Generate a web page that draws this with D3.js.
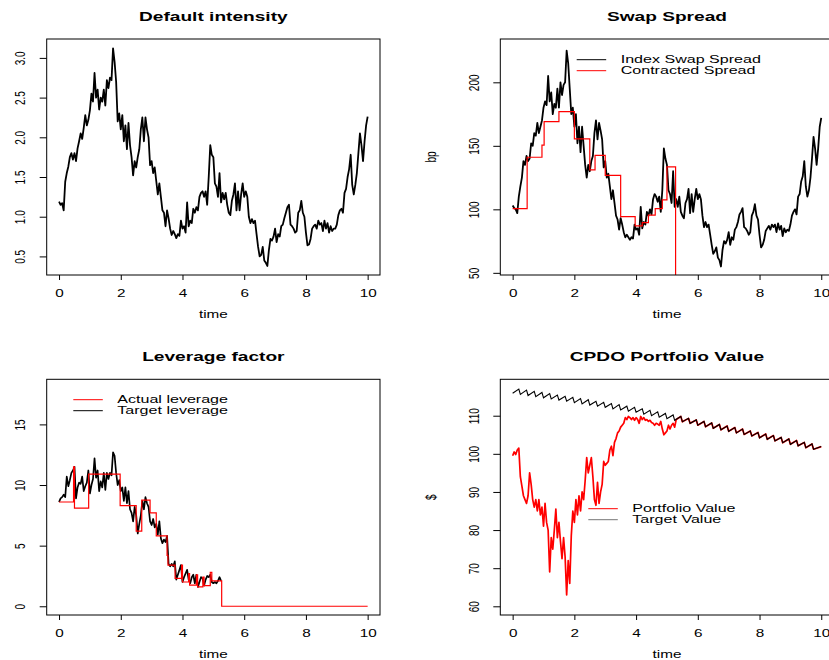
<!DOCTYPE html>
<html>
<head>
<meta charset="utf-8">
<script src="https://cdn.jsdelivr.net/npm/d3@7"></script>
<style>
  body { margin: 0; background: #fff; }
  svg { display: block; }
  text { font-family: "Liberation Sans", Arial, Helvetica, sans-serif; fill: #000; }
</style>
</head>
<body>
<svg id="fig" width="829" height="660"></svg>
<script>
// ---------------------------------------------------------------------------
// Data (time in years; noisy series sampled every 0.05 year)
// ---------------------------------------------------------------------------
const timeTicks = [0, 2, 4, 6, 8, 10];
const intensityTicks = [0.5, 1.0, 1.5, 2.0, 2.5, 3.0];
const spreadTicks = [50, 100, 150, 200];
const leverageTicks = [0, 5, 10, 15];
const valueTicks = [60, 70, 80, 90, 100, 110];

const sampleStep = 0.05;

// default intensity, t = 0 .. 10
const intensity = [
  1.19,1.15,1.17,1.08,1.44,1.55,1.63,1.75,1.80,1.72,1.80,1.70,1.86,1.95,2.05,1.98,2.12,2.28,2.15,2.22,
  2.34,2.55,2.45,2.81,2.50,2.60,2.35,2.50,2.45,2.60,2.40,2.72,2.62,2.75,2.72,3.12,2.95,2.70,2.20,2.30,
  2.10,2.28,1.95,2.15,1.85,2.18,1.90,1.75,1.52,1.70,1.62,1.75,1.85,2.10,2.25,1.95,2.25,2.10,2.00,1.65,
  1.70,1.55,1.62,1.45,1.28,1.42,1.25,1.08,1.05,0.88,1.08,0.98,0.85,0.77,0.82,0.78,0.73,0.78,0.76,0.95,
  0.85,0.88,0.80,1.18,0.88,0.95,0.92,1.10,1.05,1.12,1.08,1.25,1.30,1.32,1.25,1.32,1.15,1.50,1.90,1.78,
  1.75,1.42,1.38,1.25,1.55,1.18,1.30,1.22,1.30,1.15,1.05,1.02,1.20,1.28,1.42,1.08,1.32,1.08,1.28,1.42,
  1.25,1.32,1.25,1.00,0.92,0.97,0.92,0.95,0.78,0.62,0.50,0.52,0.62,0.45,0.42,0.38,0.58,0.72,0.70,0.75,
  0.85,0.68,0.78,0.75,0.88,0.90,0.98,1.05,1.12,1.15,0.90,0.88,0.85,0.80,0.82,1.05,1.08,1.20,1.05,1.00,
  0.80,0.64,0.65,0.72,0.85,0.88,0.90,0.85,0.95,0.90,0.92,0.82,0.95,0.85,0.92,0.80,0.88,0.82,0.85,0.85,
  0.90,1.02,1.08,1.10,1.05,1.30,1.35,1.50,1.60,1.78,1.40,1.28,1.40,1.55,1.80,2.05,1.90,1.70,1.95,2.15,
  2.26
];

// index swap spread (bp), t = 0 .. 10
const indexSpread = [
  103,101,100,97,110,118,125,138,135,142,138,140,152,150,160,158,168,160,165,170,
  180,185,182,205,185,192,175,183,180,195,180,200,190,198,200,225,215,195,175,180,
  165,175,152,165,145,165,150,135,125,135,130,138,142,160,170,155,168,162,155,133,
  138,125,128,118,108,115,105,95,92,84,93,88,82,78,80,78,76,78,77,88,
  84,85,80,102,85,90,88,98,95,100,96,108,112,110,106,110,98,115,148,140,
  135,115,112,105,130,102,108,102,110,98,95,93,105,108,116,97,112,98,108,116,
  108,112,108,95,86,90,86,88,80,72,65,67,70,62,60,55,68,75,73,76,
  82,72,78,76,84,86,90,96,98,101,86,85,83,80,82,95,98,104,95,92,
  80,70,72,76,83,85,87,84,88,86,88,82,89,84,87,79,85,82,84,83,
  88,95,98,100,96,110,112,122,126,138,118,110,115,125,140,157,148,135,148,165,
  172
];

// contracted spread: [reset time, spread held until next reset]
const contractedSpread = [
  [0, 100.5], [0.47, 141], [0.95, 150.5], [1.02, 169], [1.5, 177], [2.0, 155.5],
  [2.5, 131], [2.67, 142.5], [3.0, 126.8], [3.5, 94.3], [3.97, 87], [4.2, 89.5],
  [4.4, 95.5], [4.62, 100.5], [4.85, 107.5], [5.0, 133.5], [5.28, 0]
];

// target leverage, t = 0 .. 5.25
const targetLeverage = [
  8.6,8.9,9.0,9.2,9.0,10.7,9.9,10.4,11.0,11.2,11.5,8.9,9.8,10.2,10.1,10.7,9.5,9.9,10.2,11.2,
  9.3,10.0,10.5,12.2,10.6,11.2,9.5,10.3,9.8,11.0,9.6,11.0,10.5,11.0,10.8,12.7,12.4,11.0,10.0,10.4,
  9.5,9.8,8.7,9.8,8.5,9.5,8.0,7.7,7.0,8.2,7.5,6.0,6.8,7.5,8.7,8.0,9.0,8.5,8.2,7.0,
  6.7,7.2,6.5,6.8,5.9,7.0,5.6,5.2,5.5,5.3,5.8,3.5,3.3,3.5,3.3,3.7,2.2,2.6,3.0,3.4,
  2.0,2.4,2.7,3.0,2.2,1.9,2.4,2.6,1.9,2.6,1.6,2.0,2.4,2.3,1.7,2.2,2.5,2.4,2.6,2.0,
  1.9,2.0,1.9,2.1,2.4,2.1
];

// actual leverage: [rebalance time, leverage held until next rebalance]
const actualLeverage = [
  [0, 8.6], [0.47, 11.5], [0.5, 8.1], [0.96, 10.9], [1.98, 8.3], [2.5, 6.2],
  [2.68, 8.75], [2.95, 7.7], [3.15, 5.8], [3.5, 4.2], [3.53, 3.4], [3.76, 2.3],
  [3.97, 3.4], [4.0, 2.0], [4.2, 2.7], [4.23, 1.75], [4.45, 2.6], [4.49, 1.6],
  [4.66, 2.4], [4.7, 1.7], [4.9, 2.8], [4.95, 2.1], [5.27, 0], [10, 0]
];

// CPDO portfolio value ($), t = 0 .. 5.3 (cash-in afterwards: tracks the target)
const portfolioValue = [
  99.5,100.5,99.8,101.0,101.5,94.0,91.5,89.0,88.0,87.0,89.0,95.0,92.0,88.0,86.0,88.0,85.0,88.0,84.0,86.0,
  81.0,87.0,82.0,80.0,69.0,78.0,75.0,80.0,85.5,78.0,82.0,77.0,72.5,78.0,73.0,63.0,72.0,66.0,78.5,85.0,
  82.0,88.0,84.0,89.0,85.0,90.0,88.0,93.0,99.0,95.0,97.0,99.0,94.0,88.0,86.5,92.5,87.0,90.0,92.0,98.0,
  97.0,97.5,98.0,101.0,102.0,99.5,103.0,104.0,105.5,106.0,107.0,107.5,108.0,109.5,109.0,109.8,109.5,109.0,109.5,108.8,
  109.5,109.0,108.0,109.8,109.0,109.5,108.8,109.0,108.5,108.8,108.2,108.0,107.5,108.0,107.8,107.5,108.5,106.5,105.0,105.5,
  106.0,107.5,106.5,107.5,108.0,107.0,109.0
];

// target value: quarterly coupon cycle
const targetStart = 115.9;   // t = 0
const targetEnd = 101.9;     // t = 10
const couponLag = 0.05;      // peak occurs this long before each quarter date
// peaks just before each quarter date (t = 0.20, 0.45, ..., 9.70)
const targetPeaks = [
  117.0,116.7,116.4,116.1,115.8,115.4,115.1,114.8,
  114.5,114.2,113.8,113.5,113.2,112.9,112.5,112.2,
  111.8,111.4,111.0,110.6,110.2,109.8,109.3,108.9,
  108.5,108.1,107.7,107.3,106.9,106.5,106.0,105.6,
  105.2,104.8,104.3,103.9,103.5,103.0,102.6
];
// values on each quarter date (t = 0.25, 0.50, ..., 9.75)
const targetTroughs = [
  115.6,115.3,115.0,114.7,114.4,114.1,113.8,113.4,
  113.1,112.8,112.5,112.2,111.8,111.5,111.2,110.9,
  110.4,110.0,109.6,109.2,108.8,108.4,108.0,107.5,
  107.1,106.7,106.3,105.9,105.5,105.1,104.7,104.2,
  103.8,103.4,102.9,102.5,102.1,101.6,101.2
];

// ---------------------------------------------------------------------------
// Helpers
// ---------------------------------------------------------------------------
const SX = 1.53;                        // horizontal glyph stretch
const FONT = '"Liberation Sans", Arial, Helvetica, sans-serif';
const sampled = (vals) => vals.map((v, i) => [+(i * sampleStep).toFixed(2), v]);

const targetSeries = [[0, targetStart]];
targetPeaks.forEach((p, k) => {
  const q = 0.25 * (k + 1);
  targetSeries.push([q - couponLag, p]);
  targetSeries.push([q, targetTroughs[k]]);
});
targetSeries.push([10, targetEnd]);

const portfolioSeries = sampled(portfolioValue);
const lastT = portfolioSeries[portfolioSeries.length - 1][0];
targetSeries.forEach(d => { if (d[0] > lastT) portfolioSeries.push(d); });

const svg = d3.select('#fig');

function stretchText(g, x, y, str, opt = {}) {
  const t = g.append('text')
    .attr('transform', `translate(${x},${y}) scale(${SX},1)` + (opt.rotate ? ' rotate(-90)' : ''))
    .attr('text-anchor', opt.anchor || 'middle')
    .style('font-size', (opt.size || 10) + 'px')
    .style('font-weight', opt.weight || 'normal')
    .text(str);
  if (opt.dy) t.attr('dy', opt.dy);
  return t;
}

function panel(cfg) {
  const { box, yDomain, yTicks, yFmt, title, ylab, id } = cfg;
  const g = svg.append('g');
  const x = d3.scaleLinear().domain([-0.4, 10.4]).range([box.x0, box.x1]);
  const y = d3.scaleLinear().domain(yDomain).range([box.y1, box.y0]);

  g.append('clipPath').attr('id', id)
    .append('rect').attr('x', box.x0).attr('y', box.y0)
    .attr('width', box.x1 - box.x0).attr('height', box.y1 - box.y0);
  const plot = g.append('g').attr('clip-path', `url(#${id})`);

  // axes
  const xa = g.append('g').attr('transform', `translate(0,${box.y1})`)
    .call(d3.axisBottom(x).tickValues(timeTicks).tickSize(5).tickSizeOuter(0).tickFormat(d3.format('d')));
  const ya = g.append('g').attr('transform', `translate(${box.x0},0)`)
    .call(d3.axisLeft(y).tickValues(yTicks).tickSize(7).tickSizeOuter(0).tickFormat(yFmt));
  [xa, ya].forEach(a => {
    a.select('.domain').remove();
    a.attr('font-family', FONT).attr('font-size', 10);
    a.selectAll('line').attr('stroke', '#000');
    a.selectAll('text').attr('fill', '#000');
  });
  xa.selectAll('text').attr('y', 0).attr('dy', null)
    .attr('transform', `translate(0,21.7) scale(${SX},1)`);
  ya.selectAll('text').attr('x', 0).attr('y', 0).attr('dy', null).attr('text-anchor', 'middle')
    .attr('transform', `translate(-21.7,0) scale(${SX},1) rotate(-90)`);

  // frame
  g.append('rect').attr('x', box.x0).attr('y', box.y0)
    .attr('width', box.x1 - box.x0).attr('height', box.y1 - box.y0)
    .attr('fill', 'none').attr('stroke', '#000').attr('stroke-width', 1);

  // labels
  const cx = (box.x0 + box.x1) / 2;
  stretchText(g, cx, box.y0 - 18.5, title, { size: 12.5, weight: 'bold' });
  stretchText(g, cx, box.y1 + 42.5, 'time', { size: 10 });
  if (ylab) stretchText(g, box.x0 - 64.3, (box.y0 + box.y1) / 2, ylab, { size: 10, rotate: true });

  const line = (curve) => d3.line().x(d => x(d[0])).y(d => y(d[1])).curve(curve || d3.curveLinear);
  return { g, plot, x, y, line };
}

function legend(g, x0, yRow, items) {
  items.forEach((it, i) => {
    const yy = yRow + i * 11;
    g.append('line').attr('x1', x0).attr('x2', x0 + 29.5).attr('y1', yy).attr('y2', yy)
      .attr('stroke', it.color).attr('stroke-width', 1);
    stretchText(g, x0 + 44, yy, it.label, { size: 10.5, anchor: 'start', dy: '0.35em' });
  });
}

const L = { x0: 46.7, x1: 380 }, R = { x0: 500.3, x1: 833.6 };
const T = { y0: 39, y1: 275 }, B = { y0: 379.3, y1: 615 };

// --- Default intensity ------------------------------------------------------
{
  const p = panel({ id: 'c1', box: { ...L, ...T }, yDomain: [0.266, 3.238], yTicks: intensityTicks,
    yFmt: d3.format('.1f'), title: 'Default intensity' });
  p.plot.append('path').datum(sampled(intensity)).attr('d', p.line())
    .attr('fill', 'none').attr('stroke', '#000').attr('stroke-width', 1.8).attr('stroke-linejoin', 'round');
}

// --- Swap spread ------------------------------------------------------------
{
  const p = panel({ id: 'c2', box: { ...R, ...T }, yDomain: [48.3, 234.1], yTicks: spreadTicks,
    yFmt: d3.format('d'), title: 'Swap Spread', ylab: 'bp' });
  p.plot.append('path').datum(sampled(indexSpread)).attr('d', p.line())
    .attr('fill', 'none').attr('stroke', '#000').attr('stroke-width', 1.8).attr('stroke-linejoin', 'round');
  p.plot.append('path').datum(contractedSpread).attr('d', p.line(d3.curveStepAfter))
    .attr('fill', 'none').attr('stroke', '#ff0000').attr('stroke-width', 1.2);
  legend(p.g, 576.7, 59.7, [
    { label: 'Index Swap Spread', color: '#000' },
    { label: 'Contracted Spread', color: '#ff0000' }
  ]);
}

// --- Leverage factor --------------------------------------------------------
{
  const p = panel({ id: 'c3', box: { ...L, ...B }, yDomain: [-0.72, 18.72], yTicks: leverageTicks,
    yFmt: d3.format('d'), title: 'Leverage factor' });
  p.plot.append('path').datum(sampled(targetLeverage)).attr('d', p.line())
    .attr('fill', 'none').attr('stroke', '#000').attr('stroke-width', 1.7).attr('stroke-linejoin', 'round');
  p.plot.append('path').datum(actualLeverage).attr('d', p.line(d3.curveStepAfter))
    .attr('fill', 'none').attr('stroke', '#ff0000').attr('stroke-width', 1.2);
  legend(p.g, 73.3, 399.7, [
    { label: 'Actual leverage', color: '#ff0000' },
    { label: 'Target leverage', color: '#000' }
  ]);
}

// --- CPDO portfolio value ---------------------------------------------------
{
  const p = panel({ id: 'c4', box: { ...R, ...B }, yDomain: [57.72, 119.55], yTicks: valueTicks,
    yFmt: d3.format('d'), title: 'CPDO Portfolio Value', ylab: '$' });
  p.plot.append('path').datum(portfolioSeries).attr('d', p.line())
    .attr('fill', 'none').attr('stroke', '#ff0000').attr('stroke-width', 1.7).attr('stroke-linejoin', 'round');
  p.plot.append('path').datum(targetSeries).attr('d', p.line())
    .attr('fill', 'none').attr('stroke', '#000').attr('stroke-width', 1.1);
  legend(p.g, 588.3, 508.7, [
    { label: 'Portfolio Value', color: '#ff0000' },
    { label: 'Target Value', color: '#777' }
  ]);
}
</script>
</body>
</html>
